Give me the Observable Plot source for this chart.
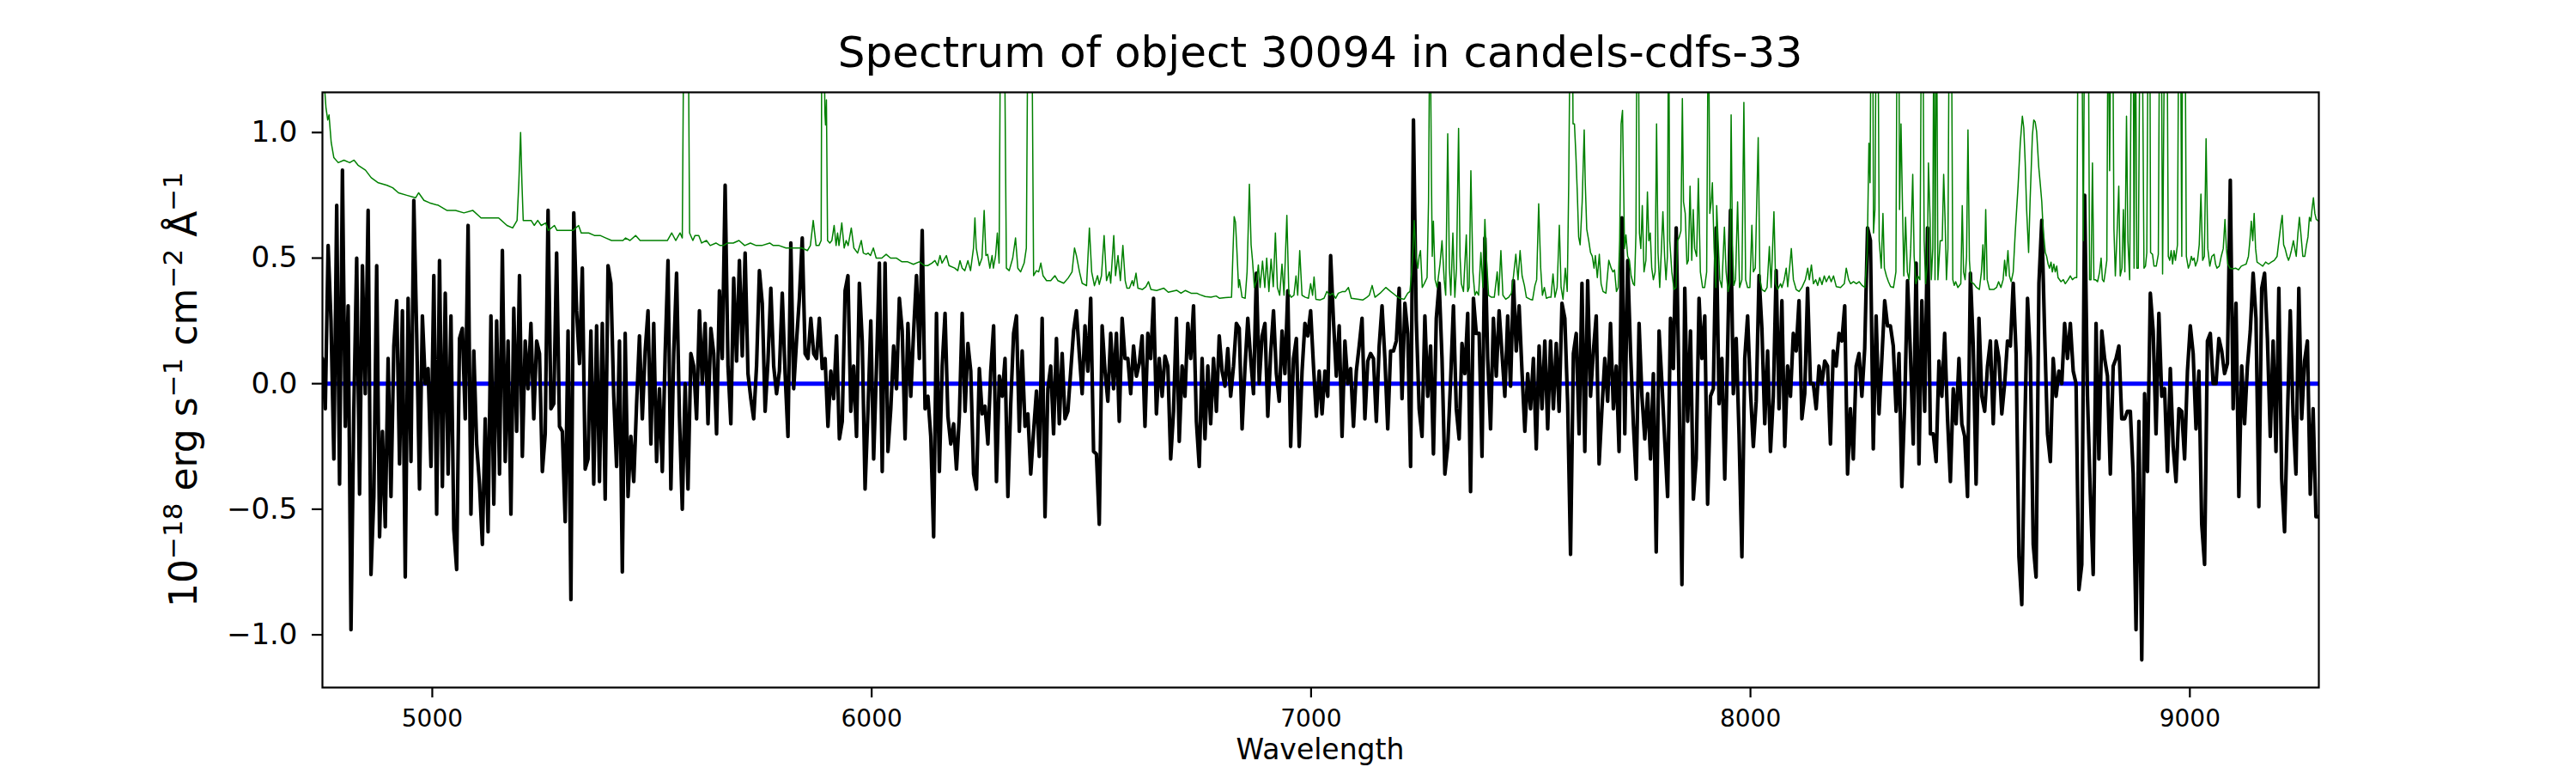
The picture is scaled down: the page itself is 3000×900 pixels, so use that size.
<!DOCTYPE html>
<html><head><meta charset="utf-8">
<script src="https://cdn.jsdelivr.net/npm/d3@7"></script>
<script src="https://cdn.jsdelivr.net/npm/@observablehq/plot@0.6"></script>
<style>
html,body{margin:0;padding:0;background:#fff;}
svg{display:block;}
g[aria-label="x-axis tick label"] text{font-size:28px;}
g[aria-label="y-axis tick label"] text{font-size:34px;}
</style>
</head><body><div id="chart"></div>
<script>
const titleText = "Spectrum of object 30094 in candels-cdfs-33";
const xLabelText = "Wavelength";
const yLabelParts = [["10",0],["\u221218",1],[" erg s",0],["\u22121",1],[" cm",0],["\u22122",1],[" \u00C5",0],["\u22121",1]];
const xTicks = [5000, 6000, 7000, 8000, 9000];
const yTicks = [-1.0, -0.5, 0.0, 0.5, 1.0];
const xDomain = [4750, 9293.5];
const yDomain = [-1.21, 1.16];
const modelLevel = [0];

// object flux, sampled every waveStep Angstrom from waveStart
const waveStart = 4750, waveStep = 6.5;
const fluxA = [0.10,-0.10,0.55,0.25,-0.30,0.71,-0.40,0.85,-0.17,0.31,
-0.98,-0.10,0.50,-0.44,0.47,-0.04,0.69,-0.76,-0.45,0.47,
-0.61,-0.19,-0.57,0.10,-0.45,0.15,0.33,-0.32,0.29,-0.77,
0.34,-0.31,0.73,0.20,-0.42,0.27,0.00,0.06,-0.33,0.43,
-0.52,0.49,-0.41,0.36,-0.36,0.27,-0.58,-0.74,0.18,0.22,
-0.14,0.63,-0.52,0.13,-0.24,-0.40,-0.64,-0.14,-0.59,0.27,
-0.48,0.25,-0.36,0.53,-0.31,0.17,-0.52,0.30,-0.19,0.43,
-0.29];
const fluxB = [0.17,-0.02,0.24,-0.14,0.17,0.12,-0.35,-0.20,0.69,-0.10,
-0.08,0.52,-0.17,-0.19,-0.55,0.21,-0.86,0.68,0.29,0.08,
0.46,-0.34,-0.30,0.21,-0.40,0.23,-0.39,0.24,-0.46,0.47,
0.40,-0.05,-0.33,0.17,-0.75,0.20,-0.45,-0.21,-0.39,-0.08,
0.19,-0.14,0.13,0.29,-0.24,0.24,-0.31,-0.02,-0.35,0.12,
0.49,-0.42,0.12,0.44,-0.13,-0.50,0.00,-0.42,0.12,0.07,
-0.14,0.29,0.00,0.24,-0.16,0.22,0.12,-0.20,0.37,0.10];
const fluxC = [0.79,0.07,-0.16,0.42,0.09,0.49,0.11,0.52,0.04,-0.06,
-0.14,0.07,0.45,0.32,-0.11,0.09,0.38,0.07,-0.04,0.05,
0.36,0.04,-0.21,0.56,-0.02,0.17,0.34,0.58,0.12,0.10,
0.26,0.12,0.10,0.26,0.06,0.10,-0.17,0.05,-0.06,0.19,
-0.22,-0.15,0.37,0.43,-0.11,0.07,-0.21,0.40,0.17,-0.42,
-0.11,0.25,-0.30,0.07,0.48,-0.35,0.48,-0.27,-0.10,0.15,
-0.02,0.34,0.21,-0.22,0.24,-0.05,0.21,0.43,0.10,0.61];
const fluxD = [-0.10,-0.05,-0.21,-0.61,0.28,-0.35,0.07,0.28,-0.13,-0.24,
-0.16,-0.34,-0.13,0.28,-0.11,0.16,0.05,-0.36,-0.42,0.06,
-0.12,-0.09,-0.24,0.05,0.23,-0.39,0.03,-0.05,0.10,-0.45,
-0.08,0.20,0.27,-0.19,0.13,-0.17,-0.12,-0.36,-0.19,-0.03,
-0.29,0.26,-0.53,-0.02,0.07,-0.20,0.18,-0.16,0.12,-0.14,
-0.11,0.05,0.21,0.29,0.12,-0.04,0.23,0.05,0.34,-0.27,
-0.28,-0.56,0.23,0.05,-0.07,0.20,-0.02,0.20,-0.15,0.26,
0.10];
const fluxE = [0.10,-0.04,0.15,0.03,0.08,0.19,-0.17,0.20,0.10,0.34,
-0.12,0.10,-0.05,0.11,0.07,-0.30,-0.11,0.26,-0.23,0.07,
-0.05,0.24,0.10,0.31,-0.15,-0.33,0.10,-0.22,0.07,-0.16,
0.10,-0.11,0.19,0.05,-0.01,0.14,-0.05,0.07,0.24,0.22,
-0.18,0.06,0.26,0.10,-0.04,0.44,0.00,0.19,0.24,-0.13,
0.12,0.29,0.04,-0.07,0.21,0.04,0.37,-0.25,0.10,0.18,
-0.25,0.05,0.24,0.19,0.29,0.07,-0.13,0.05,-0.12,0.05];
const fluxF = [-0.05,0.51,0.25,0.03,0.23,-0.21,0.17,0.00,0.06,-0.17,
0.05,0.15,0.26,-0.14,0.09,0.12,0.10,-0.15,0.15,0.31,
0.10,-0.18,0.13,0.13,0.17,0.38,-0.06,0.32,0.20,-0.33,
1.05,0.25,-0.10,-0.21,0.27,-0.05,0.15,-0.28,0.26,0.40,
0.10,-0.36,-0.25,0.01,0.31,-0.10,-0.22,0.16,0.04,0.28,
-0.43,0.34,0.20,0.20,-0.29,0.58,0.10,-0.18,0.26,0.03,
0.29,0.12,-0.05,0.27,-0.01,0.41,0.13,0.31,0.05,-0.19,
0.04];
const fluxG = [-0.10,0.10,-0.26,0.15,-0.10,0.17,-0.18,0.17,-0.10,0.16,
-0.11,0.32,0.26,-0.08,-0.68,0.12,0.20,-0.20,0.40,-0.27,
0.41,-0.05,0.13,0.27,-0.32,-0.10,0.10,-0.07,0.24,-0.10,
0.07,-0.27,0.66,-0.20,0.49,0.13,-0.16,-0.38,0.24,-0.05,
-0.22,-0.04,-0.30,0.04,-0.67,0.21,0.00,-0.23,-0.45,0.26,
0.06,0.62,-0.03,-0.80,0.38,-0.15,0.21,-0.46,-0.30,0.34,
0.10,0.27,-0.48,-0.05,-0.02,0.62,-0.08,0.10,-0.38,0.14,
0.69];
const fluxH = [-0.04,0.18,-0.20,-0.69,0.10,0.27,-0.03,-0.25,-0.07,0.43,
0.22,-0.16,0.13,-0.27,-0.05,0.45,-0.10,0.33,-0.25,0.07,
-0.05,0.20,0.13,0.33,-0.14,-0.04,0.38,0.00,0.00,-0.10,
0.07,0.00,0.09,0.07,-0.24,0.13,0.07,0.20,0.17,0.31,
-0.36,-0.10,-0.30,0.07,0.12,-0.05,0.14,0.62,0.57,-0.26,
0.27,-0.12,0.10,0.33,0.23,0.23,0.15,-0.11,0.12,-0.41,
-0.08,0.41,0.12,-0.24,0.48,-0.32,0.33,-0.11,0.62,-0.20];
const fluxI = [-0.20,-0.31,0.09,-0.05,0.20,-0.14,-0.39,-0.02,-0.16,0.10,
-0.16,-0.21,-0.45,0.44,0.15,-0.40,0.26,-0.05,-0.11,0.07,
0.17,-0.16,0.17,0.10,-0.12,0.00,0.17,0.15,0.40,0.12,
-0.69,-0.88,-0.20,0.34,0.10,-0.64,-0.77,0.40,0.65,0.20,
-0.20,-0.31,0.10,-0.05,0.05,0.00,0.24,0.10,0.24,0.05,
0.00,-0.82,-0.72,0.75,-0.05,-0.44,-0.76,0.24,-0.30,0.21,
0.10,0.03,-0.36,0.07,0.10,0.15,-0.14,-0.14,-0.11,-0.11,
-0.36];
const fluxJ = [-0.98,-0.15,-1.10,-0.04,-0.35,0.36,0.21,-0.20,0.28,-0.05,
-0.02,-0.35,0.06,-0.25,-0.39,-0.10,-0.11,-0.30,0.05,0.23,
0.12,-0.18,0.05,-0.56,-0.72,0.17,0.20,0.00,0.00,0.18,
0.13,0.04,0.08,0.81,-0.10,0.32,-0.45,0.07,-0.16,0.07,
0.21,0.44,0.26,-0.49,0.38,0.44,0.18,-0.21,0.17,-0.27,
0.38,-0.38,-0.59,-0.14,0.29,-0.13,-0.36,0.38,-0.14,0.09,
0.17,-0.44,-0.10,-0.53,-0.53];

// noise / sky spectrum: [wavelength, value]
const skyA = [[4750,1.40],[4754,1.20],[4758,1.10],[4762,1.05],[4765,1.07],[4770,0.96],[4776,0.90],[4786,0.88],[4799,0.89],[4812,0.88],[4822,0.89],[4831,0.87],[4848,0.85],[4861,0.82],[4877,0.80],[4897,0.79],[4910,0.78],[4923,0.76],[4942,0.75],[4962,0.74],[4969,0.76],[4981,0.73],[4994,0.72],[5014,0.71],[5033,0.69],[5053,0.69],[5072,0.68],[5092,0.69],[5111,0.66],[5131,0.66],[5151,0.66],[5170,0.63],[5183,0.62],[5193,0.65],[5197,0.80],[5201,1.00],[5204,0.80],[5207,0.65]];
const skyB = [[5212,0.65],[5225,0.65],[5232,0.63],[5240,0.65],[5248,0.63],[5258,0.64],[5264,0.61],[5278,0.63],[5284,0.61],[5304,0.61],[5320,0.61],[5333,0.63],[5339,0.60],[5356,0.60],[5369,0.59],[5382,0.59],[5395,0.58],[5408,0.57],[5421,0.57],[5434,0.57],[5440,0.58],[5450,0.57],[5463,0.59],[5473,0.57],[5492,0.57],[5512,0.57],[5525,0.57],[5535,0.57],[5545,0.60],[5554,0.57],[5564,0.60],[5569,0.58],[5572.6,1.5],[5577,3.0],[5582.4,1.5],[5585.6,0.60],[5593,0.57],[5598,0.59],[5606.5,0.59],[5613,0.56],[5624,0.57],[5632.5,0.55],[5645.5,0.56],[5655,0.55],[5663,0.55]];
const skyC = [[5672,0.56],[5685,0.56],[5698,0.57],[5711,0.55],[5724,0.56],[5737,0.55],[5750,0.55],[5768,0.56],[5776,0.55],[5789,0.55],[5805,0.54],[5821,0.54],[5841,0.54],[5854,0.53],[5860.5,0.55],[5867,0.65],[5873.5,0.55],[5880,0.55],[5885,0.57],[5887,1.7],[5890,1.7],[5893.5,1.08],[5895,1.03],[5897,1.13],[5899.6,0.57],[5904.8,0.56],[5909.4,0.57],[5914.6,0.63],[5919,0.55],[5922.4,0.60],[5925.6,0.55],[5932,0.64],[5937.4,0.54],[5942,0.57],[5946.5,0.55],[5953.6,0.62],[5959.5,0.54],[5968,0.52],[5976.4,0.57],[5981,0.52],[5987.5,0.515],[5992,0.52],[5997.3,0.51],[6003.8,0.54],[6010.3,0.50],[6023,0.50],[6033,0.515],[6043,0.50],[6056,0.50],[6069,0.485],[6082,0.485],[6095,0.475],[6108,0.485],[6121,0.47]];
const skyD = [[6127.5,0.47],[6137,0.48],[6144,0.49],[6150,0.47],[6155.5,0.51],[6160,0.48],[6170,0.51],[6176,0.47],[6189,0.46],[6196,0.45],[6201,0.49],[6206,0.46],[6212,0.45],[6219,0.49],[6225,0.45],[6231.7,0.54],[6235,0.66],[6238,0.54],[6245,0.47],[6251,0.50],[6256,0.69],[6260,0.51],[6264,0.515],[6269,0.46],[6274,0.51],[6277,0.46],[6282,0.51],[6286,0.60],[6290,0.48],[6293.6,1.6],[6297.5,2.5],[6301.4,1.6],[6306.6,0.46],[6313,0.45],[6321,0.50],[6327.4,0.58],[6332.6,0.46],[6339,0.445],[6347,0.48],[6352,0.54],[6356,1.6],[6360,2.5],[6364,1.6],[6368.5,0.43],[6375,0.45],[6380,0.445],[6385,0.48],[6390,0.43],[6398,0.41],[6407.5,0.41],[6417,0.43],[6424,0.41],[6437,0.40],[6447,0.42],[6456,0.445],[6461.6,0.54],[6466,0.51],[6473,0.445],[6479,0.40],[6489,0.39],[6495.5,0.62],[6500.7,0.445],[6507,0.39],[6514,0.43],[6518,0.395],[6523,0.43],[6529,0.59],[6534.5,0.41],[6541,0.445],[6544,0.40],[6551,0.59],[6555,0.43],[6560.6,0.51],[6566,0.41],[6571.7,0.55],[6577,0.41],[6581,0.38]];
const skyE = [[6586.7,0.38],[6593,0.41],[6596,0.39],[6601.6,0.44],[6606,0.38],[6616,0.375],[6624,0.386],[6630,0.406],[6635.5,0.375],[6648.5,0.371],[6665,0.38],[6675,0.364],[6694,0.372],[6704,0.36],[6714,0.371],[6727,0.36],[6740,0.36],[6746,0.355],[6759,0.347],[6772,0.344],[6784,0.349],[6792,0.34],[6805,0.343],[6819,0.344],[6822,0.51],[6825,0.665],[6828,0.643],[6831,0.538],[6835,0.383],[6837,0.414],[6843,0.344],[6850,0.34],[6854.4,0.445],[6859.6,0.794],[6863.5,0.553],[6866.7,0.491],[6871,0.383],[6876.5,0.414],[6880,0.473],[6884,0.383],[6889.5,0.488],[6894.7,0.383],[6899,0.50],[6904,0.367],[6909,0.496],[6914,0.386],[6918.8,0.60],[6923.4,0.383],[6928.6,0.352],[6933.8,0.476],[6938.4,0.352],[6944.9,0.67],[6949.4,0.36],[6954.7,0.344],[6961,0.352],[6965.7,0.429],[6969.6,0.352],[6974.2,0.53],[6979.4,0.352],[6987,0.344],[6994,0.34],[6999,0.398],[7003.5,0.352],[7006.8,0.425],[7011,0.336],[7020,0.333],[7029.5,0.34]];
const skyF = [[7036,0.367],[7043,0.352],[7049,0.36],[7056,0.34],[7062,0.36],[7072,0.367],[7078,0.367],[7085,0.383],[7091.5,0.34],[7108,0.336],[7117.5,0.333],[7127,0.344],[7132.5,0.352],[7139,0.391],[7145.5,0.344],[7157,0.36],[7170,0.383],[7181,0.367],[7192,0.352],[7202,0.34],[7212,0.336],[7220,0.36],[7225,0.367],[7229,0.445],[7231.5,0.52],[7234.7,0.65],[7239,0.50],[7243,0.46],[7246,0.507],[7249,0.53],[7253,0.383],[7257.5,0.398],[7264,0.422],[7267.3,0.724],[7270.6,1.6],[7273.8,0.85],[7275.8,0.507],[7278.4,0.647],[7282.3,0.414],[7286.8,0.383],[7293.4,0.476],[7298,0.569],[7303,0.414],[7306.4,0.352],[7311,0.995],[7314.8,0.46],[7318,0.352],[7322.7,0.60],[7327.2,0.344],[7331,0.46],[7335.7,1.016],[7339,0.507],[7342,0.398],[7346.8,0.367],[7353.3,0.592],[7356.5,0.367],[7359.8,0.383],[7363.7,0.848],[7368.3,0.445],[7372.8,0.352],[7376.7,0.367],[7381.3,0.352],[7386.5,0.522],[7391,0.383],[7395.6,0.654],[7399.5,0.491],[7404,0.352],[7410.6,0.344],[7417,0.344],[7423.6,0.445],[7427,0.352],[7432,0.53],[7436.6,0.352],[7443,0.336],[7449.7,0.344],[7456,0.36],[7460.7,0.429],[7466,0.515],[7471,0.414],[7475.7,0.53],[7480.3,0.429],[7485.5,0.391],[7490,0.344],[7498.5,0.336],[7504,0.333]];
const skyG = [[7509.5,0.391],[7513.4,0.414],[7518,0.716],[7522.6,0.46],[7526.5,0.352],[7531,0.383],[7535.6,0.34],[7541,0.344],[7546,0.344],[7550.6,0.437],[7555,0.344],[7560,0.383],[7565,0.631],[7569,0.383],[7573.4,0.336],[7578.6,0.46],[7583,0.367],[7586.4,0.80],[7590.3,1.6],[7594.2,1.6],[7596.2,1.034],[7599.4,1.034],[7602.7,0.91],[7606,0.755],[7609,0.584],[7612.4,0.553],[7617,0.724],[7621.6,1.01],[7624,0.80],[7627.4,0.615],[7632,0.569],[7636,0.522],[7640,0.507],[7644,0.46],[7647,0.51],[7651.5,0.422],[7656,0.515],[7660,0.398],[7664.5,0.367],[7671,0.36],[7677.6,0.491],[7683,0.46],[7687,0.445],[7690.6,0.453],[7695,0.367],[7699,0.383],[7702.3,0.569],[7705.6,1.034],[7708.8,1.088],[7713.4,0.538],[7716.6,0.592],[7720.5,0.507],[7724.5,0.491],[7728.4,0.429],[7733,0.398],[7736,0.391],[7739.4,0.60],[7742,1.6],[7744.6,1.6],[7747.3,0.60],[7750.5,0.538],[7753.8,0.709],[7757.7,0.445],[7762,0.491],[7765.5,0.763],[7768.7,0.569],[7772,0.60],[7775.3,0.46],[7779,0.414],[7783,0.445],[7786.3,1.034],[7789.6,0.522],[7793.5,0.383],[7797.4,0.538],[7800.7,0.685],[7804.6,0.507],[7807.8,0.414],[7811,0.507],[7813.7,1.6],[7816.3,0.569],[7821,0.445],[7826,0.375],[7830.6,0.383],[7834,0.569],[7838,0.584],[7841.7,0.608],[7845,1.135],[7847.6,0.724],[7851.5,0.678],[7855.4,0.476],[7858.6,0.491],[7862.5,0.786],[7866.4,0.491],[7869.7,0.693],[7873,0.538],[7877.5,0.507],[7881.4,0.817],[7886,0.445],[7891,0.383],[7895.7,0.383],[7900.3,0.445],[7904.2,1.6],[7907.5,0.678],[7910.7,0.724],[7913.3,0.80],[7917.2,0.538],[7921.2,0.383],[7923.1,0.709],[7926.4,0.569],[7930.3,0.414],[7934.8,0.383],[7940.7,0.623],[7944.6,0.445],[7949.2,0.367],[7953,0.40],[7956,1.07],[7959,0.55],[7962.2,0.391]];
const skyH = [[7966,0.414],[7970.7,0.724],[7975.2,0.383],[7980.5,0.414],[7985,1.12],[7989,0.414],[7993.5,0.383],[7998.7,0.383],[8003.2,0.631],[8006.5,0.445],[8011,0.46],[8017.6,0.98],[8021.5,0.414],[8026,0.375],[8032.6,0.367],[8037.8,0.383],[8043,0.546],[8047,0.383],[8053.4,0.685],[8057.3,0.398],[8062,0.375],[8068.4,0.398],[8071.6,0.383],[8076.8,0.414],[8081.4,0.46],[8084.7,0.386],[8089,0.46],[8093,0.538],[8097.7,0.414],[8104,0.375],[8110.7,0.367],[8117,0.383],[8125,0.414],[8130.3,0.46],[8134,0.414],[8138.7,0.473],[8143.3,0.398],[8148.5,0.414],[8153,0.391],[8157.6,0.422],[8162.8,0.395],[8168,0.429],[8172.6,0.406],[8179,0.429],[8183.7,0.406],[8189,0.429],[8195.4,0.386],[8205,0.383],[8213.6,0.398],[8218,0.46],[8223.4,0.414],[8228,0.398],[8234.5,0.406],[8241,0.398],[8247.5,0.406],[8254,0.391],[8260.5,0.383],[8265.7,0.522],[8269.6,0.957],[8272.2,0.80],[8274.8,1.6],[8278,1.6],[8280,0.60],[8283.3,0.693],[8286.6,1.6],[8289.8,1.6],[8293,0.569],[8297.6,0.46],[8301.5,0.678],[8304.8,0.46],[8309.4,0.429],[8314,0.406],[8319,0.386],[8325.6,0.383],[8331,0.445],[8334,1.6],[8337.4,1.6],[8339.3,0.693],[8342.6,1.034],[8345.8,0.724],[8349,0.429],[8353,0.662],[8357,0.445],[8361,0.414],[8364.7,0.538],[8369.3,0.833],[8372.5,0.507],[8376.4,0.398],[8381,0.429],[8385.6,0.414],[8389.5,1.6],[8392,1.6],[8395.3,0.569],[8398.6,0.398],[8402.5,0.476],[8405,0.879],[8408.4,0.678],[8411.6,0.414],[8414.9,0.538],[8417.5,1.6],[8420,0.414],[8423.4,1.6],[8426.6,0.414]];
const skyI = [[8431.8,0.569],[8436.4,0.569],[8439.7,0.833],[8443,0.647],[8446,0.414],[8449.4,0.538],[8452.7,1.6],[8457,1.6],[8460.5,0.414],[8463.8,0.391],[8467,0.406],[8472,0.383],[8478.7,0.398],[8482,0.709],[8485,0.445],[8488.5,0.414],[8491.8,0.507],[8495,1.01],[8498.3,0.491],[8501.5,0.406],[8508,0.398],[8514.6,0.383],[8521,0.375],[8525.6,0.445],[8529,0.553],[8532,0.414],[8535.4,0.693],[8538.7,0.414],[8544,0.375],[8553.6,0.375],[8560,0.383],[8564.7,0.406],[8570,0.383],[8575,0.414],[8578.4,0.491],[8581.6,0.429],[8586,0.53],[8589.4,0.429],[8593.4,0.406],[8598,0.445],[8602.5,0.60],[8609,0.786],[8614,0.957],[8618.8,1.065],[8622,1.019],[8625.3,0.879],[8628.5,0.693],[8633,0.522],[8636.3,0.724],[8641.6,0.988],[8644.8,1.05],[8648,1.042],[8651.3,1.003],[8656,0.864],[8660,0.786],[8663,0.724],[8666,0.616],[8671,0.522],[8674,0.507],[8677.4,0.476],[8680.6,0.46],[8684,0.484],[8687,0.445],[8690.4,0.476],[8693.7,0.445],[8697,0.468],[8700,0.422],[8706.7,0.406],[8712,0.414],[8716.5,0.398],[8723,0.414],[8728,0.429],[8732.7,0.414],[8738,0.422],[8742.5,0.422],[8745.8,1.6],[8751,1.6],[8753.6,1.6],[8757.5,0.569],[8760.7,1.6],[8765,1.6],[8768.6,1.6],[8771.8,0.414],[8775,0.414],[8778.3,0.879],[8781.6,0.414],[8785,0.414],[8790,0.406],[8794.6,0.445],[8798,0.50],[8801,0.414],[8804.4,0.406],[8807.6,0.445],[8811,0.491],[8814,1.6],[8817.4,0.848],[8820.7,1.6],[8824,1.6],[8827.2,0.616],[8830.4,0.429],[8833.7,0.569],[8838.2,0.786],[8841.5,0.429],[8845.4,0.46],[8848.7,0.693],[8852,0.445],[8855.8,1.065],[8859,0.569],[8863,0.414],[8867.6,1.6],[8870.8,1.6],[8873,0.46]];
const skyJ = [[8876,1.6],[8879.3,0.46],[8882.6,0.46],[8887,1.6],[8891,1.6],[8895.6,0.46],[8899,0.468],[8902,0.522],[8905.4,1.6],[8908.6,1.6],[8910.6,0.522],[8915,0.515],[8918.4,0.468],[8923.6,0.468],[8928.2,0.515],[8931.4,1.6],[8934.7,1.6],[8937.9,0.437],[8943.1,1.6],[8947.7,1.6],[8950.9,0.507],[8954.2,0.491],[8957.5,0.53],[8960.7,0.476],[8964,0.53],[8967.2,0.491],[8971.8,0.553],[8975,1.6],[8978.3,1.6],[8981.6,0.507],[8983.5,1.6],[8988.7,1.6],[8992,0.507],[8996.5,0.46],[9000,0.476],[9003.4,0.507],[9006.3,0.491],[9009.6,0.50],[9012.8,0.468],[9017.4,0.491],[9021.3,0.553],[9025.2,0.755],[9029.1,0.491],[9033,0.507],[9036.9,0.975],[9040.8,0.538],[9045.4,0.468],[9050,0.507],[9055.2,0.515],[9058.4,0.476],[9061.7,0.46],[9066.9,0.468],[9071.4,0.507],[9076,0.538],[9079.9,0.654],[9083.2,0.538],[9086.4,0.476],[9091,0.46],[9097.5,0.457],[9104,0.46],[9110.5,0.453],[9117,0.468],[9123.6,0.473],[9128.1,0.476],[9133.3,0.507],[9136.6,0.569],[9139.8,0.647],[9143.1,0.569],[9146.3,0.678],[9149.6,0.538],[9152.9,0.484],[9159.4,0.476],[9165.9,0.468],[9172.4,0.484],[9178.9,0.476],[9185.4,0.484],[9192,0.491],[9198.5,0.507],[9203.7,0.584],[9206.9,0.631],[9210.2,0.67],[9213.4,0.553],[9216.7,0.538],[9221.2,0.507],[9224.5,0.491],[9227.8,0.507],[9231,0.53],[9235.6,0.569],[9238.8,0.538],[9242.1,0.507],[9246,0.60],[9249.3,0.662],[9252.5,0.60],[9257.1,0.507],[9261.6,0.507],[9265.5,0.553],[9268.8,0.584],[9272.1,0.662],[9275.3,0.647],[9277.9,0.693],[9281.2,0.74],[9284.4,0.678],[9287.7,0.654],[9292.9,0.647]];

const fluxAll = [].concat(fluxA, fluxB, fluxC, fluxD, fluxE, fluxF, fluxG, fluxH, fluxI, fluxJ);
const spectrum = fluxAll.map((f, i) => ({wave: waveStart + i * waveStep, flux: f}));
const sky = [].concat(skyA, skyB, skyC, skyD, skyE, skyF, skyG, skyH, skyI, skyJ).map(([w, f]) => ({wave: w, flux: f}));

const fmtY = d => (d < 0 ? "\u2212" : "") + Math.abs(d).toFixed(1);

const svg = Plot.plot({
  width: 3000, height: 900,
  marginLeft: 375, marginRight: 300, marginTop: 107, marginBottom: 100,
  style: {fontFamily: "DejaVu Sans", background: "white", color: "black", overflow: "visible"},
  x: {domain: xDomain, label: null},
  y: {domain: yDomain, label: null},
  marks: [
    Plot.axisX({ticks: xTicks, tickSize: 12, tickPadding: 14, strokeWidth: 2.2, fontSize: 28, tickFormat: d => String(d), label: null}),
    Plot.axisY({ticks: yTicks, tickSize: 12, tickPadding: 17, strokeWidth: 2.2, fontSize: 34, tickFormat: fmtY, label: null}),
    Plot.ruleY(modelLevel, {stroke: "#0000ff", strokeWidth: 5}),
    Plot.line(spectrum, {x: "wave", y: "flux", stroke: "black", strokeWidth: 4.2, clip: true, strokeLinejoin: "round"}),
    Plot.line(sky, {x: "wave", y: "flux", stroke: "#008000", strokeWidth: 1.5, clip: true}),
    Plot.frame({stroke: "black", strokeWidth: 2.2})
  ]
});
document.getElementById("chart").append(svg);

const s = d3.select(svg);
s.append("text").attr("x", 1537.5).attr("y", 78).attr("text-anchor", "middle")
  .attr("font-family", "DejaVu Sans").attr("font-size", 50).attr("fill", "black").text(titleText);
s.append("text").attr("x", 1537.5).attr("y", 884).attr("text-anchor", "middle")
  .attr("font-family", "DejaVu Sans").attr("font-size", 33).attr("fill", "black").text(xLabelText);
const yl = s.append("text").attr("transform", "translate(229,453.5) rotate(-90)").attr("text-anchor", "middle")
  .attr("font-family", "DejaVu Sans").attr("font-size", 44).attr("fill", "black");
let raised = false;
for (const [t, sup] of yLabelParts) {
  const ts = yl.append("tspan").text(t);
  if (sup && !raised) { ts.attr("font-size", 31).attr("dy", -17); raised = true; }
  else if (!sup && raised) { ts.attr("dy", 17); raised = false; }
}
</script>
</body></html>
